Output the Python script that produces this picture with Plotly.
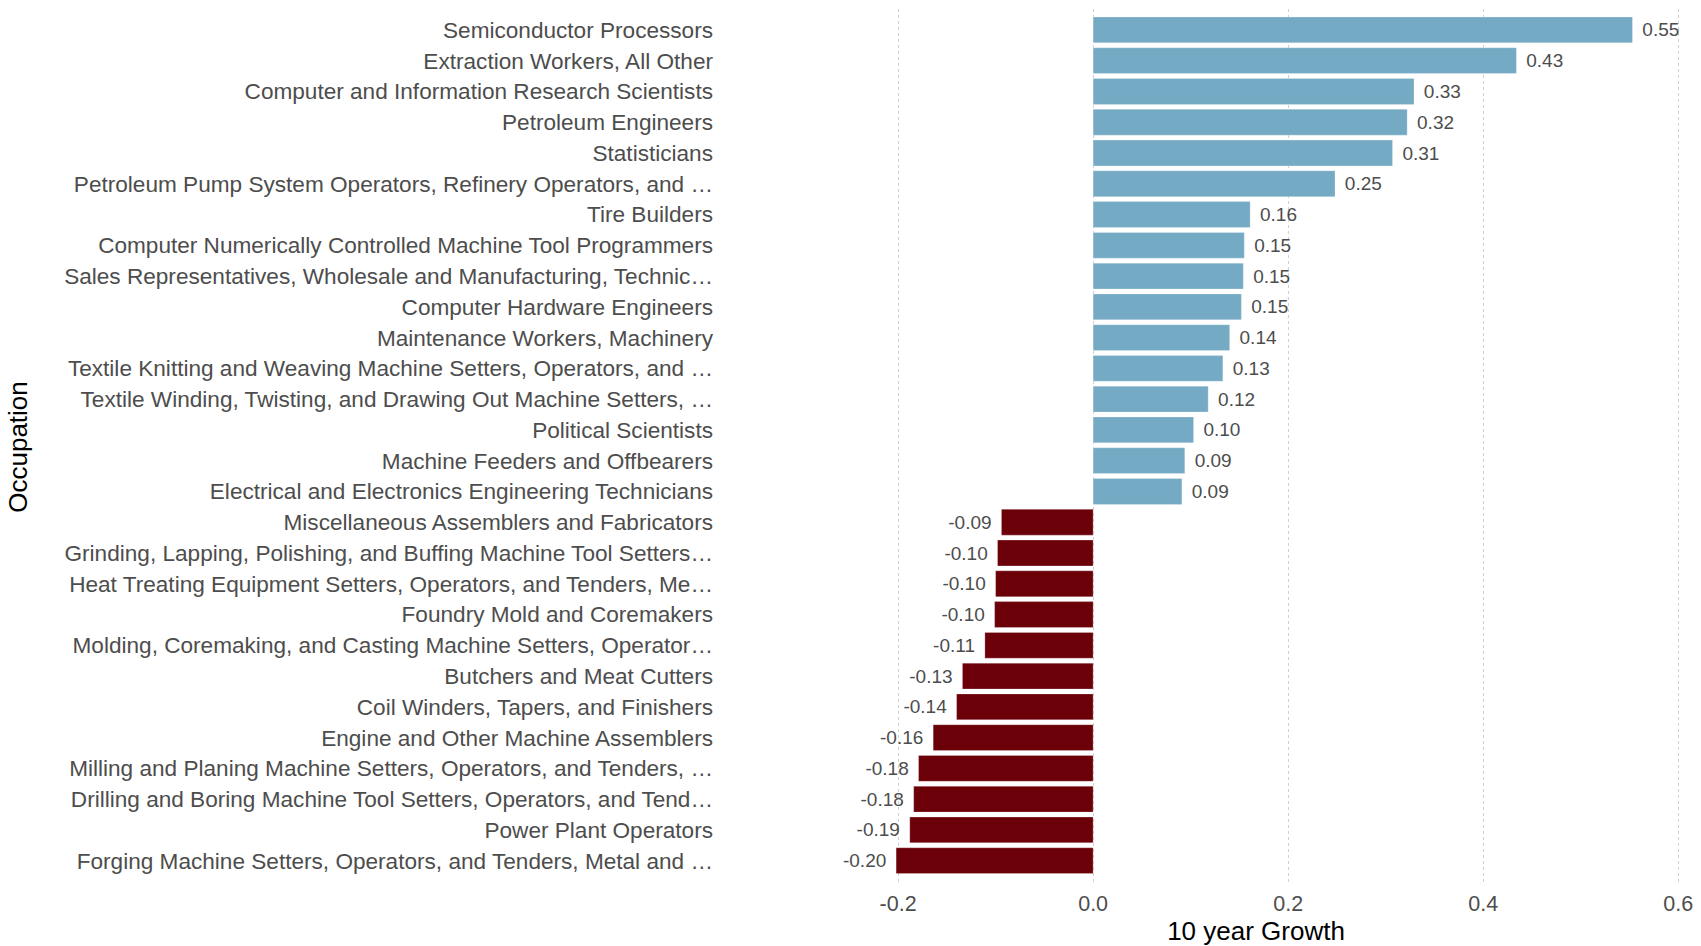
"""Croissance sur 10 ans par profession : barres horizontales divergentes."""
import plotly.graph_objects as go

FONT = "Liberation Sans, Arial, sans-serif"
BLUE = "#74AAC4"
RED = "#6B0009"

occupations = [
    "Semiconductor Processors",
    "Extraction Workers, All Other",
    "Computer and Information Research Scientists",
    "Petroleum Engineers",
    "Statisticians",
    "Petroleum Pump System Operators, Refinery Operators, and …",
    "Tire Builders",
    "Computer Numerically Controlled Machine Tool Programmers",
    "Sales Representatives, Wholesale and Manufacturing, Technic…",
    "Computer Hardware Engineers",
    "Maintenance Workers, Machinery",
    "Textile Knitting and Weaving Machine Setters, Operators, and …",
    "Textile Winding, Twisting, and Drawing Out Machine Setters, …",
    "Political Scientists",
    "Machine Feeders and Offbearers",
    "Electrical and Electronics Engineering Technicians",
    "Miscellaneous Assemblers and Fabricators",
    "Grinding, Lapping, Polishing, and Buffing Machine Tool Setters…",
    "Heat Treating Equipment Setters, Operators, and Tenders, Me…",
    "Foundry Mold and Coremakers",
    "Molding, Coremaking, and Casting Machine Setters, Operator…",
    "Butchers and Meat Cutters",
    "Coil Winders, Tapers, and Finishers",
    "Engine and Other Machine Assemblers",
    "Milling and Planing Machine Setters, Operators, and Tenders, …",
    "Drilling and Boring Machine Tool Setters, Operators, and Tend…",
    "Power Plant Operators",
    "Forging Machine Setters, Operators, and Tenders, Metal and …",
]

growth = [
    0.553, 0.434, 0.329, 0.322, 0.307, 0.248, 0.161, 0.155, 0.154, 0.152,
    0.140, 0.133, 0.118, 0.103, 0.094, 0.091,
    -0.094, -0.098, -0.100, -0.101, -0.111, -0.134, -0.140, -0.164,
    -0.179, -0.184, -0.188, -0.202,
]

x_ticks = [-0.2, 0.0, 0.2, 0.4, 0.6]
x_tick_labels = ["-0.2", "0.0", "0.2", "0.4", "0.6"]

colors = [BLUE if g > 0 else RED for g in growth]
# petit espace entre la barre et son etiquette
labels = [f" \u200a{g:.2f}" if g > 0 else f"{g:.2f}\u200a " for g in growth]

fig = go.Figure(go.Bar(
    x=growth,
    y=occupations,
    orientation="h",
    marker=dict(color=colors, line=dict(color="rgba(255,255,255,0.5)", width=0.5)),
    text=labels,
    textposition="outside",
    constraintext="none",
    cliponaxis=False,
    textfont=dict(family=FONT, size=19, color="#4d4d4d"),
    hoverinfo="x+y",
))

n = len(occupations)
fig.update_layout(
    width=1701,
    height=946,
    margin=dict(l=822, r=11, t=9, b=61),
    paper_bgcolor="white",
    plot_bgcolor="white",
    font=dict(family=FONT, color="#000000"),
    bargap=0.16,
    showlegend=False,
    xaxis=dict(
        range=[-0.278, 0.612],
        tickvals=x_ticks,
        ticktext=x_tick_labels,
        showgrid=True,
        gridcolor="#d0d0d0",
        griddash="dot",
        gridwidth=1,
        zeroline=False,
        showline=False,
        automargin=False,
        ticklabelstandoff=3,
        tickfont=dict(family=FONT, size=21.5, color="#4d4d4d"),
        title=dict(text="10 year Growth", font=dict(family=FONT, size=26, color="#000000"), standoff=9),
    ),
    yaxis=dict(
        categoryorder="array",
        categoryarray=occupations,
        range=[n - 1 + 0.79, -0.68],
        showgrid=False,
        zeroline=False,
        showline=False,
        automargin=False,
        ticklabelstandoff=108,
        tickfont=dict(family=FONT, size=22.6, color="#4d4d4d"),
        title=dict(text="Occupation", font=dict(family=FONT, size=26, color="#000000"), standoff=29),
    ),
)

# la page a une marge de 8px par defaut : on la supprime
fig.write_html(
    "out.html",
    config={"displayModeBar": False},
    post_script="document.body.style.margin='0';",
)
